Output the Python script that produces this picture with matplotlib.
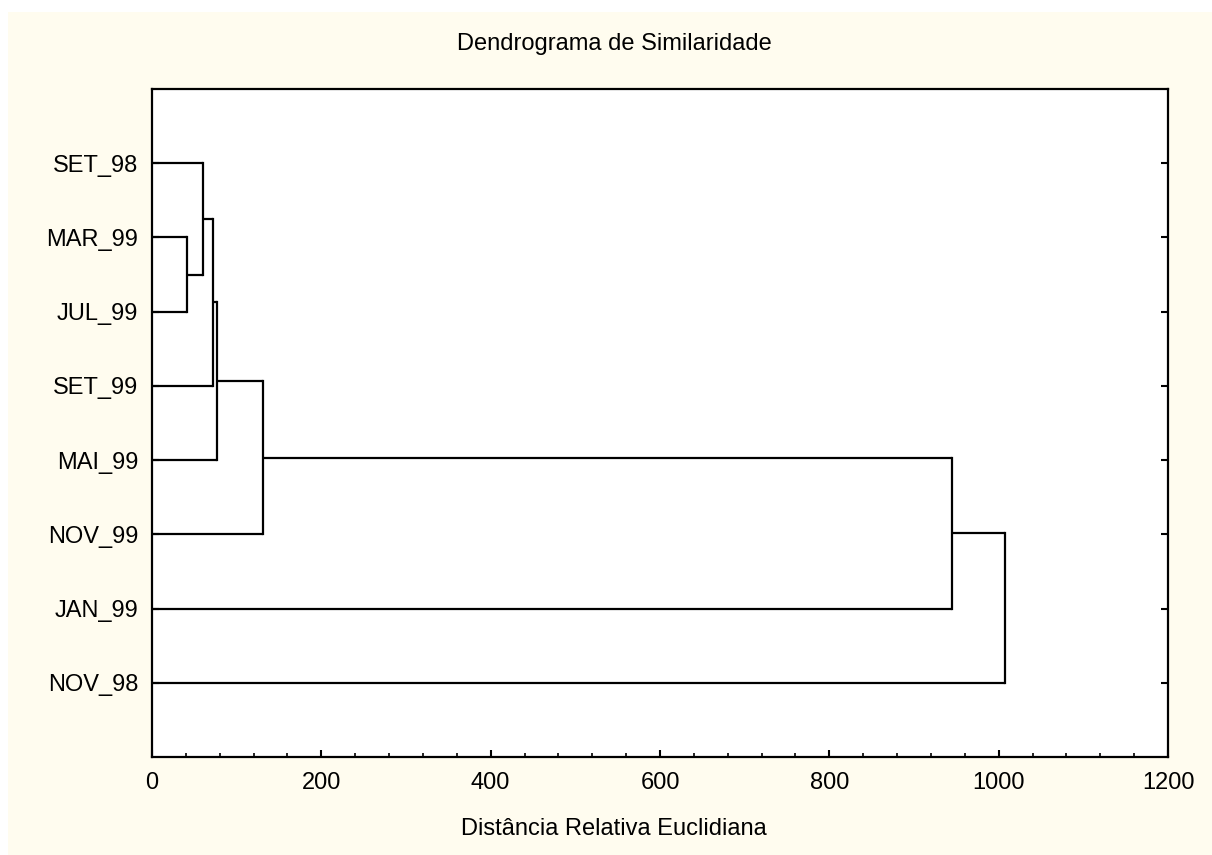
import matplotlib
matplotlib.use("Agg")
import matplotlib.pyplot as plt
from matplotlib.ticker import MultipleLocator
from matplotlib.patches import Rectangle

plt.rcParams['font.family'] = ['Liberation Sans', 'DejaVu Sans']

# Data
leaves = ['SET_98', 'MAR_99', 'JUL_99', 'SET_99', 'MAI_99', 'NOV_99', 'JAN_99', 'NOV_98']
# merges: (child_a, child_b, height); nodes numbered after leaves (8, 9, ...)
merge_a = [1, 0, 9, 10, 11, 12, 13]
merge_b = [2, 8, 3, 4, 5, 6, 7]
merge_h = [41, 60, 72, 77, 131, 945, 1008]

title = 'Dendrograma de Similaridade'
xlabel = 'Distância Relativa Euclidiana'

W, H = 1212, 855
fig = plt.figure(figsize=(W / 100, H / 100), dpi=100)
fig.patch.set_facecolor('white')
bg = Rectangle((8 / W, 0), 1 - 8 / W, 1 - 12 / H, transform=fig.transFigure,
               facecolor='#fffcef', edgecolor='none', zorder=-10)
fig.patches.append(bg)

ax = fig.add_axes([152 / W, 1 - 757 / H, (1168 - 152) / W, (757 - 89) / H])
ax.set_facecolor('white')

ypos = {i: i + 1 for i in range(len(leaves))}
hpos = {i: 0.0 for i in range(len(leaves))}
lw = 1.6
for k, (a, b, h) in enumerate(zip(merge_a, merge_b, merge_h)):
    node = len(leaves) + k
    for c in (a, b):
        ax.plot([hpos[c], h], [ypos[c], ypos[c]], color='black', lw=lw, solid_capstyle='butt')
    ax.plot([h, h], [ypos[a], ypos[b]], color='black', lw=lw, solid_capstyle='projecting')
    ypos[node] = (ypos[a] + ypos[b]) / 2
    hpos[node] = h

fs = 17
ax.set_xlim(0, 1200)
ax.set_ylim(len(leaves) + 1, 0)
ax.set_yticks(range(1, len(leaves) + 1))
ax.set_yticklabels(leaves)
ax.xaxis.set_major_locator(MultipleLocator(200))
ax.xaxis.set_minor_locator(MultipleLocator(40))
ax.tick_params(axis='x', which='major', direction='in', length=5, width=1.5,
               labelsize=fs, pad=11, top=False)
ax.tick_params(axis='x', which='minor', direction='in', length=3, width=1.2, top=False)
ax.tick_params(axis='y', which='major', direction='in', length=5, width=1.5,
               labelsize=fs, pad=10, left=True, right=True)
for s in ax.spines.values():
    s.set_linewidth(1.6)

fig.text(614 / W, 1 - 44 / H, title, fontsize=fs, ha='center', va='center')
fig.text(614 / W, 1 - 829 / H, xlabel, fontsize=fs, ha='center', va='center')

fig.savefig('out.png', dpi=100, facecolor=fig.get_facecolor())
